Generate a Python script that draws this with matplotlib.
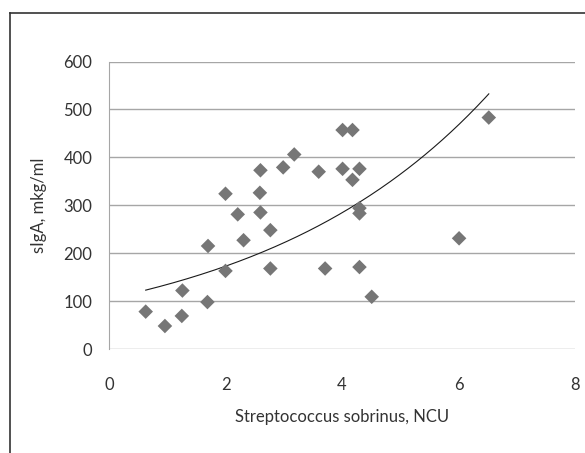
import numpy as np
import matplotlib
matplotlib.use("Agg")
import matplotlib.pyplot as plt
from matplotlib.lines import Line2D

# Data
ncu = [0.63, 0.96, 1.25, 1.26, 1.69, 1.70, 2.00, 2.00, 2.21, 2.31,
       2.60, 2.59, 2.60, 2.77, 2.77, 2.99, 3.18, 3.60, 3.71, 4.01,
       4.01, 4.18, 4.30, 4.18, 4.30, 4.30, 4.30, 4.51, 6.01, 6.52]
siga = [78, 48, 69, 122, 98, 215, 324, 163, 281, 227,
        373, 326, 285, 248, 168, 379, 406, 370, 168, 457,
        376, 457, 376, 353, 294, 283, 171, 109, 231, 483]

# Exponential trendline y = a*exp(b*x)
trend_a = 105.0
trend_b = 0.249
trend_range = (0.63, 6.52)

x_ticks = [0, 2, 4, 6, 8]
y_ticks = [0, 100, 200, 300, 400, 500, 600]

plt.rcParams['font.family'] = ['Lato', 'DejaVu Sans']

fig = plt.figure(figsize=(5.85, 4.53), dpi=100)
ax = fig.add_axes([109/585, 1 - 349/453, (575-109)/585, (349-61.5)/453])

ax.set_xlim(0, 8)
ax.set_ylim(0, 600)
ax.set_xticks(x_ticks)
ax.set_yticks(y_ticks)
ax.yaxis.grid(True, color='#A6A6A6', linewidth=1)
ax.set_axisbelow(True)
for s in ['top', 'right', 'bottom']:
    ax.spines[s].set_visible(False)
ax.spines['left'].set_color('#A6A6A6')
ax.tick_params(length=0, labelsize=12, colors='#333333')
ax.tick_params(axis='y', pad=12)
ax.tick_params(axis='x', pad=20)

tx = np.linspace(trend_range[0], trend_range[1], 200)
ax.plot(tx, trend_a * np.exp(trend_b * tx), color='#1a1a1a', linewidth=0.8, zorder=2)

ax.scatter(ncu, siga, marker='D', s=55, color='#767676', edgecolors='none', zorder=3, clip_on=False)

ax.set_xlabel('Streptococcus sobrinus, NCU', fontsize=12, color='#333333')
ax.set_ylabel('sIgA, mkg/ml', fontsize=12, color='#333333')
ax.xaxis.set_label_coords(0.5, (349 - 409) / 287.5)
ax.yaxis.set_label_coords((47 - 109) / 466, 0.5)

# Chart area border (top and left visible)
fig.add_artist(Line2D([10/585, 10/585], [0, 1 - 13/453], transform=fig.transFigure, color='#333333', linewidth=1.2))
fig.add_artist(Line2D([10/585, 1], [1 - 13/453, 1 - 13/453], transform=fig.transFigure, color='#333333', linewidth=1.2))

fig.savefig('out.png', dpi=100)
